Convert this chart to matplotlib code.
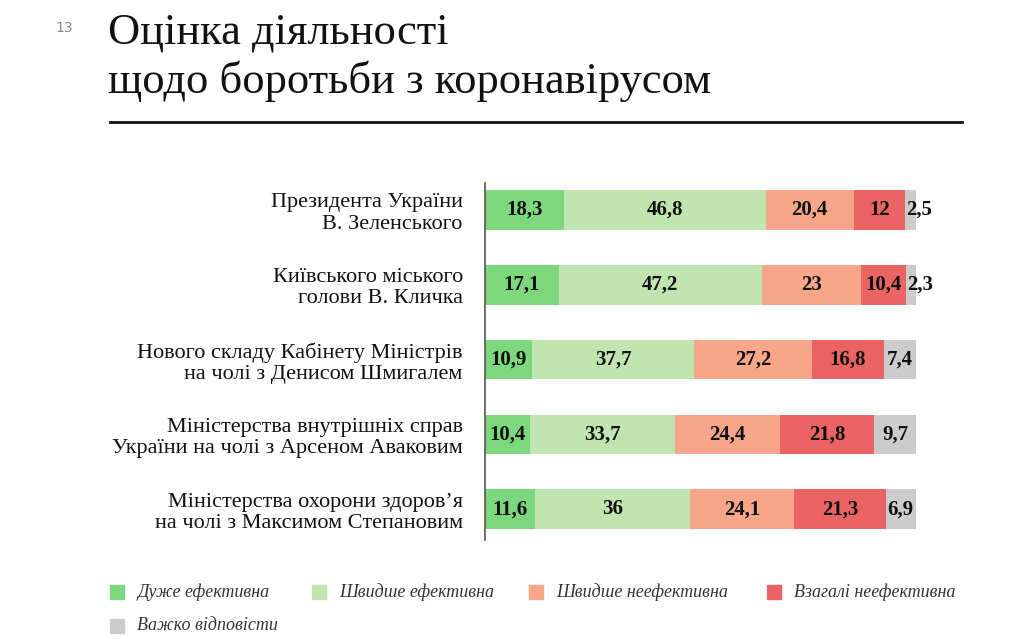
import matplotlib
matplotlib.use("Agg")
import matplotlib.pyplot as plt
import numpy as np

categories = [
    "Президента України\nВ. Зеленського",
    "Київського міського\nголови В. Кличка",
    "Нового складу Кабінету Міністрів\nна чолі з Денисом Шмигалем",
    "Міністерства внутрішніх справ\nУкраїни на чолі з Арсеном Аваковим",
    "Міністерства охорони здоров’я\nна чолі з Максимом Степановим",
]
series_names = ["Дуже ефективна", "Швидше ефективна", "Швидше неефективна",
                "Взагалі неефективна", "Важко відповісти"]
very_eff = [18.3, 17.1, 10.9, 10.4, 11.6]
rather_eff = [46.8, 47.2, 37.7, 33.7, 36]
rather_ineff = [20.4, 23, 27.2, 24.4, 24.1]
not_eff = [12, 10.4, 16.8, 21.8, 21.3]
hard = [2.5, 2.3, 7.4, 9.7, 6.9]
series = [very_eff, rather_eff, rather_ineff, not_eff, hard]
colors = ["#7dd87d", "#c1e5b1", "#f7a68a", "#ea6464", "#cccccc"]

serif = ["Liberation Serif", "DejaVu Serif"]

W, H = 1021, 639
fig = plt.figure(figsize=(W / 100, H / 100), dpi=100)

def fx(px):
    return px / W

def fy(py):
    return 1 - py / H

# Title
fig.text(fx(55), fy(28), "13", fontsize=10, color="#888888", family="DejaVu Sans",
         va="center", ha="left")
fig.text(fx(108), fy(44), "Оцінка діяльності", fontsize=32, family=serif,
         va="baseline", ha="left", color="#111111")
fig.text(fx(108), fy(93), "щодо боротьби з коронавірусом", fontsize=32, family=serif,
         va="baseline", ha="left", color="#111111")
fig.add_artist(plt.Line2D([fx(110), fx(962)], [fy(122), fy(122)], color="#111111", lw=2))

# Axes
ax = fig.add_axes([fx(485), fy(540), fx(916) - fx(485), (540 - 183) / H])
y = np.arange(len(categories))
left = np.zeros(len(categories))
for vals, col, name in zip(series, colors, series_names):
    vals = np.array(vals, dtype=float)
    ax.barh(y, vals, left=left, height=0.53, color=col, label=name, edgecolor="none")
    for yi, (l, v) in enumerate(zip(left, vals)):
        txt = f"{v:g}".replace(".", ",")
        if v < 5:
            ax.text(l + 0.2, yi, txt, ha="left", va="center", fontsize=15,
                    fontweight="bold", family=serif, color="#111111", clip_on=False)
        else:
            ax.text(l + v / 2, yi, txt, ha="center", va="center", fontsize=15,
                    fontweight="bold", family=serif, color="#111111")
    left = left + vals

ax.set_xlim(0, 100)
ax.set_ylim(4.41, -0.36)
ax.set_yticks(y)
ax.set_yticklabels(categories, family=serif, fontsize=16, color="#111111",
                   linespacing=1.15)
ax.tick_params(axis="y", length=0, pad=16)
ax.set_xticks([])
for s in ["top", "right", "bottom"]:
    ax.spines[s].set_visible(False)
ax.spines["left"].set_color("#555555")
ax.spines["left"].set_linewidth(1.2)

# Legend (manual placement)
leg_items = [
    (110, 592), (312, 592), (529, 592), (767, 592), (110, 626)
]
text_x_off = 27
for (px, py), col, name in zip(leg_items, colors, series_names):
    fig.add_artist(plt.Rectangle((fx(px), fy(py + 7)), fx(14), 14 / H, color=col,
                                 transform=fig.transFigure))
    fig.text(fx(px + text_x_off), fy(py), name, fontsize=13, style="italic",
             family=serif, color="#333333", va="center", ha="left")

fig.savefig("out.png", dpi=100)
